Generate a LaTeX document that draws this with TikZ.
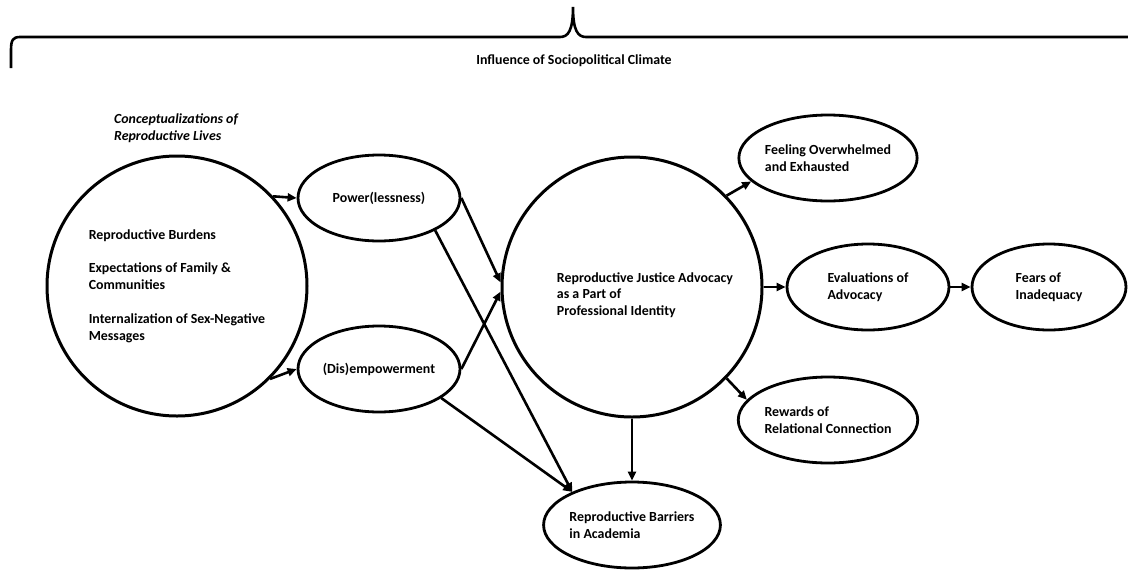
\documentclass[tikz,border=0pt]{standalone}
\usepackage{fontspec}
\setmainfont{Carlito}
\usetikzlibrary{shapes.geometric,arrows.meta}
\begin{document}
\begin{tikzpicture}[x=1pt,y=-1pt,
  txt/.style={align=left, inner sep=0pt, font=\bfseries\fontsize{13.9}{16.8}\selectfont},
  ell/.style={txt, ellipse, draw, line width=2.8pt, minimum width=162pt, minimum height=86pt},
  bigc/.style={txt, circle, draw, line width=3pt, minimum size=260pt},
  arr/.style={line width=2.6pt, -{Triangle[length=9pt,width=8pt]}},
  bracepath/.style={line width=2.6pt}]
\useasboundingbox (0,0) rectangle (1128,571);
% brace
\draw[bracepath] (11,68) -- (11,50) .. controls (11,40) and (13,37) .. (20,37) -- (560,37) .. controls (568,37) and (573,31) .. (573,7) .. controls (573,31) and (578,37) .. (586,37) -- (1132,37);
\node[txt] (infl) at (574,61) {Influence of Sociopolitical Climate};
% nodes
\node[txt, font=\bfseries\itshape\fontsize{13.9}{16.8}\selectfont, anchor=west] (ctitle) at (114,128) {Conceptualizations of\\Reproductive Lives};
\node[bigc] (conc) at (177,286) {Reproductive Burdens\\[17pt]Expectations of Family \&\\Communities\\[17pt]Internalization of Sex-Negative\\Messages};
\node[ell] (power) at (379,198) {Power(lessness)};
\node[ell] (dis) at (379,369) {(Dis)empowerment};
\node[bigc] (rj) at (632,287) {};
\node[txt] (rjtext) at (645,295) {Reproductive Justice Advocacy\\as a Part of\\Professional Identity};
\node[ell] (feel) at (828,158) {Feeling Overwhelmed\\and Exhausted};
\node[ell] (eval) at (868,287) {Evaluations of\\Advocacy};
\node[ell, minimum width=154pt] (fears) at (1049,287) {Fears of\\Inadequacy};
\node[ell] (rew) at (828,420) {Rewards of\\Relational Connection};
\node[ell] (bar) at (632,525) {Reproductive Barriers\\in Academia};
% connectors
\draw[arr] (conc.43) -- (power.west);
\draw[arr] (conc.-45) -- (dis.west);
\draw[arr] (power.east) -- (rj.178);
\draw[arr] (dis.east) -- (rj.182);
\draw[arr] (power.-30) -- (bar.151);
\draw[arr] (dis.-25) -- (bar.151);
\draw[arr] (rj.south) -- (bar.north);
\draw[arr] (rj.44) -- (feel.197);
\draw[arr] (rj.east) -- (eval.west);
\draw[arr] (eval.east) -- (fears.west);
\draw[arr] (rj.-44) -- (rew.166);
\end{tikzpicture}
\end{document}
